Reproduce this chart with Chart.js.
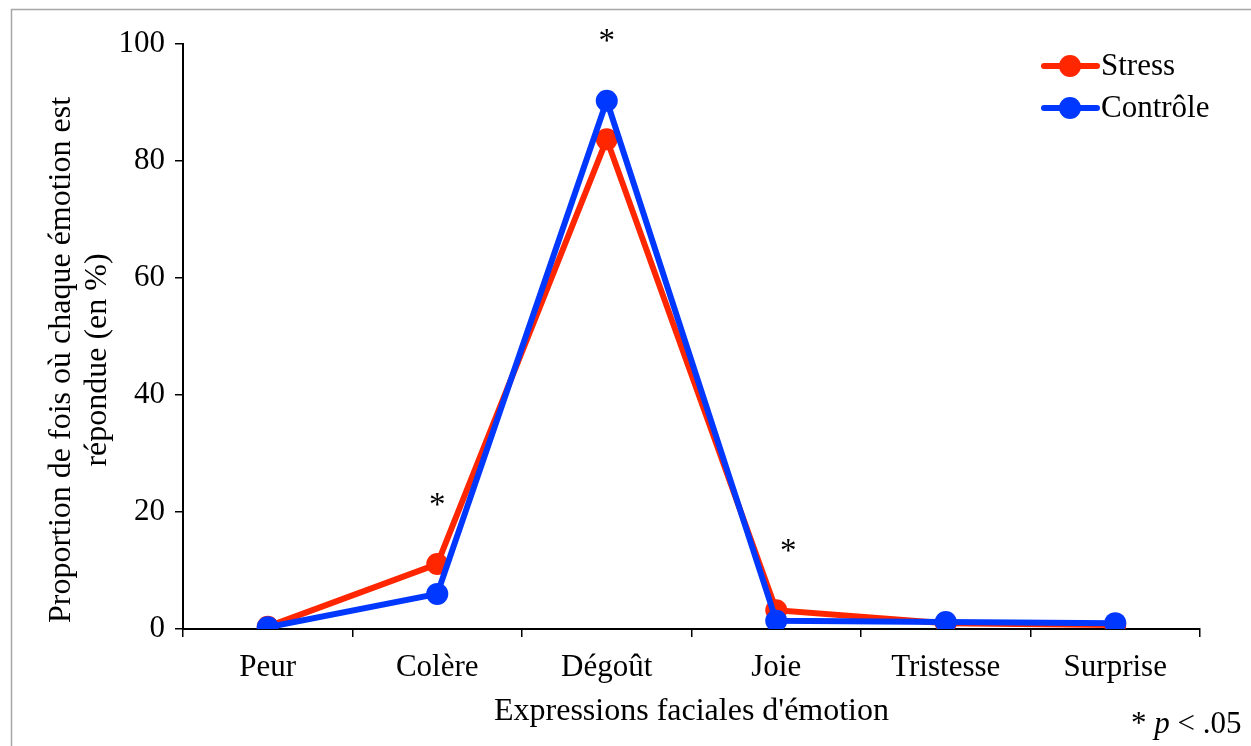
<!DOCTYPE html>
<html>
<head>
<meta charset="utf-8">
<script src="https://cdn.jsdelivr.net/npm/chart.js@4.4.1/dist/chart.umd.min.js"></script>
<style>
  html, body { margin: 0; padding: 0; background: #fff; overflow: hidden; }
  canvas { display: block; }
</style>
</head>
<body>
<canvas id="emotions" width="1251" height="746"></canvas>
<script>
"use strict"

const categories = ['Peur', 'Colère', 'Dégoût', 'Joie', 'Tristesse', 'Surprise']
const stress_values = [0.4, 11.1, 83.7, 3.2, 1.0, 0.7]
const controle_values = [0.3, 6.0, 90.3, 1.4, 1.2, 1.0]
const significant = ['Colère', 'Dégoût', 'Joie']
const y_ticks = [0, 20, 40, 60, 80, 100]

const RED = 'rgb(255, 38, 0)'
const BLUE = 'rgb(0, 56, 255)'
const SERIF = '"Liberation Serif", "Times New Roman", serif'
const FS = 31

const ctx = document.getElementById('emotions').getContext('2d')

// textes en plus : titres d'axes, légende, astérisques, cadre
const extras = {
    id: 'extras',
    beforeDraw(chart) {
        const c = chart.ctx
        c.save()
        c.strokeStyle = '#a6a6a6'
        c.lineWidth = 1.5
        c.strokeRect(11.5, 9.5, 1400, 900)
        c.restore()
    },
    afterDraw(chart) {
        const c = chart.ctx
        const area = chart.chartArea
        const x = chart.scales.x
        const y = chart.scales.y
        c.save()
        c.fillStyle = '#000'

        // titre axe Y (deux lignes)
        c.save()
        c.translate(62, 360)
        c.rotate(-Math.PI / 2)
        c.font = `32px ${SERIF}`
        c.textAlign = 'center'
        c.textBaseline = 'middle'
        c.fillText('Proportion de fois où chaque émotion est', 0, 0)
        c.fillText('répondue (en %)', 0, 36)
        c.restore()

        // titre axe X
        c.font = `32px ${SERIF}`
        c.textAlign = 'center'
        c.textBaseline = 'middle'
        c.fillText("Expressions faciales d'émotion", (area.left + area.right) / 2, 712)

        // astérisques
        c.font = `${FS + 2}px ${SERIF}`
        significant.forEach(cat => {
            const i = categories.indexOf(cat)
            const top = Math.max(stress_values[i], controle_values[i])
            const dx = cat === 'Joie' ? 12 : 0
            c.fillText('*', x.getPixelForValue(i) + dx, y.getPixelForValue(top) - 58)
        })

        // note p < .05
        c.textAlign = 'left'
        c.textBaseline = 'alphabetic'
        c.font = `${FS}px ${SERIF}`
        let px = 1131
        c.fillText('* ', px, 733)
        px += c.measureText('* ').width
        c.font = `italic ${FS}px ${SERIF}`
        c.fillText('p', px, 733)
        px += c.measureText('p').width
        c.font = `${FS}px ${SERIF}`
        c.fillText(' < .05', px, 733)

        // légende
        const items = [['Stress', RED, 66], ['Contrôle', BLUE, 108]]
        items.forEach(([label, color, ly]) => {
            c.strokeStyle = color
            c.fillStyle = color
            c.lineWidth = 6
            c.lineCap = 'round'
            c.beginPath()
            c.moveTo(1044, ly)
            c.lineTo(1097, ly)
            c.stroke()
            c.beginPath()
            c.arc(1070, ly, 11, 0, Math.PI * 2)
            c.fill()
            c.fillStyle = '#000'
            c.font = `${FS}px ${SERIF}`
            c.textBaseline = 'middle'
            c.fillText(label, 1101, ly + 1)
        })
        c.restore()
    }
}

new Chart(ctx, {
    type: 'line',
    data: {
        labels: categories,
        datasets: [{
            label: 'Stress',
            data: stress_values,
            borderColor: RED,
            backgroundColor: RED,
            borderWidth: 6,
            pointRadius: 11,
            pointHoverRadius: 11,
            pointBorderWidth: 0,
            tension: 0,
            order: 2
        }, {
            label: 'Contrôle',
            data: controle_values,
            borderColor: BLUE,
            backgroundColor: BLUE,
            borderWidth: 6,
            pointRadius: 11,
            pointHoverRadius: 11,
            pointBorderWidth: 0,
            tension: 0,
            order: 1
        }]
    },
    options: {
        responsive: false,
        animation: false,
        devicePixelRatio: 1,
        layout: {
            padding: { top: 44, right: 51, bottom: 0, left: 0 }
        },
        plugins: {
            legend: { display: false },
            tooltip: { enabled: false }
        },
        scales: {
            x: {
                offset: true,
                grid: {
                    offset: true,
                    drawOnChartArea: false,
                    drawTicks: true,
                    tickLength: 8,
                    color: '#000',
                    lineWidth: 1.5
                },
                border: { display: true, color: '#000', width: 2 },
                ticks: {
                    color: '#000',
                    padding: 12,
                    font: { family: SERIF, size: FS }
                },
                afterFit: (scale) => { scale.height = 117 }
            },
            y: {
                min: 0,
                max: 100,
                afterBuildTicks: (scale) => {
                    scale.ticks = y_ticks.map(v => ({ value: v }))
                },
                grid: {
                    drawOnChartArea: false,
                    drawTicks: true,
                    tickLength: 8,
                    color: '#000',
                    lineWidth: 1.5
                },
                border: { display: true, color: '#000', width: 2 },
                ticks: {
                    color: '#000',
                    padding: 10,
                    font: { family: SERIF, size: FS }
                },
                afterFit: (scale) => { scale.width = 183 }
            }
        }
    },
    plugins: [extras]
})
</script>
</body>
</html>
